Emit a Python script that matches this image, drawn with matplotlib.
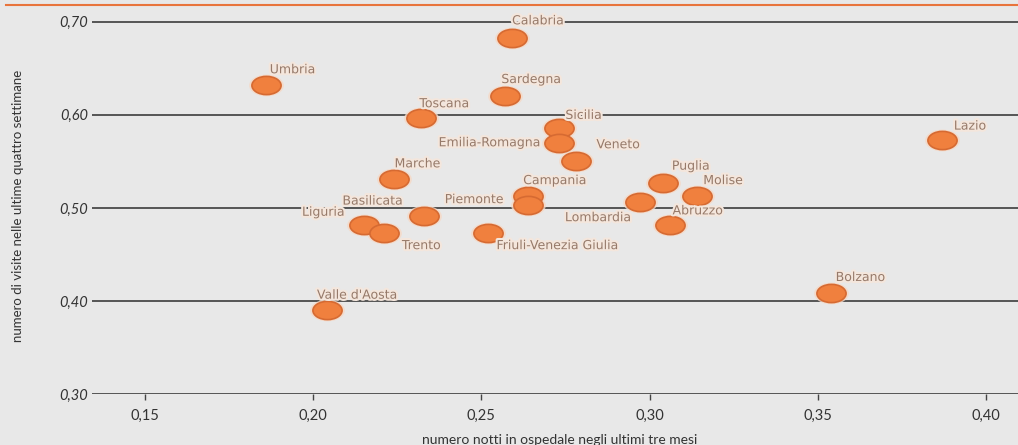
import matplotlib
matplotlib.use("Agg")
import matplotlib.pyplot as plt
from matplotlib.path import Path
from matplotlib.transforms import Affine2D
from matplotlib.lines import Line2D
import matplotlib.patheffects as pe

# ---- data ----
regions = ["Calabria", "Umbria", "Sardegna", "Toscana", "Sicilia", "Emilia-Romagna",
           "Veneto", "Marche", "Campania", "Piemonte", "Puglia", "Molise",
           "Lombardia", "Abruzzo", "Basilicata", "Liguria", "Trento",
           "Friuli-Venezia Giulia", "Valle d'Aosta", "Lazio", "Bolzano"]
notti = [0.259, 0.186, 0.257, 0.232, 0.273, 0.273,
         0.278, 0.224, 0.264, 0.264, 0.304, 0.314,
         0.297, 0.306, 0.233, 0.215, 0.221,
         0.252, 0.204, 0.387, 0.354]
visite = [0.683, 0.632, 0.620, 0.597, 0.586, 0.570,
          0.550, 0.531, 0.513, 0.503, 0.527, 0.513,
          0.506, 0.482, 0.491, 0.482, 0.473,
          0.473, 0.390, 0.573, 0.409]
x_ticks = [0.15, 0.20, 0.25, 0.30, 0.35, 0.40]
y_ticks = [0.30, 0.40, 0.50, 0.60, 0.70]
x_label = "numero notti in ospedale negli ultimi tre mesi"
y_label = "numero di visite nelle ultime quattro settimane"

# label offsets (points) and alignment, presentation only
label_pos = {
    "Calabria": (19, 12, "center"), "Umbria": (19, 11, "center"),
    "Sardegna": (19, 12, "center"), "Toscana": (17, 10, "center"),
    "Sicilia": (18, 9, "center"), "Emilia-Romagna": (-13, 0, "right"),
    "Veneto": (15, 12, "left"), "Marche": (17, 11, "center"),
    "Campania": (19, 11, "center"), "Piemonte": (-18, 4, "right"),
    "Puglia": (20, 12, "center"), "Molise": (19, 11, "center"),
    "Lombardia": (-6, -11, "right"), "Abruzzo": (20, 10, "center"),
    "Basilicata": (-37, 11, "center"), "Liguria": (-29, 9, "center"),
    "Trento": (27, -9, "center"), "Friuli-Venezia Giulia": (6, -9, "left"),
    "Valle d'Aosta": (22, 11, "center"), "Lazio": (20, 10, "center"),
    "Bolzano": (21, 11, "center"),
}

BG = "#e8e8e8"
plt.rcParams["font.family"] = ["Lato", "DejaVu Sans"]

fig = plt.figure(figsize=(10.18, 4.45), dpi=100, facecolor=BG)
ax = fig.add_axes([92 / 1018, 1 - 394.3 / 445, 1 - 92 / 1018, (394.3 - 10) / 445])
ax.set_facecolor(BG)

ax.set_xlim(0.15 - 53 / 3364, 0.15 + (1018 - 145) / 3364)
ax.set_ylim(0.30, 0.70 + 11.7 / 932)

for s in ax.spines.values():
    s.set_visible(False)

ax.set_yticks(y_ticks)
ax.set_yticklabels([f"{v:.2f}".replace(".", ",") for v in y_ticks],
                   fontstyle="italic", fontsize=10.5, color="#333333")
ax.set_xticks(x_ticks)
ax.set_xticklabels([f"{v:.2f}".replace(".", ",") for v in x_ticks],
                   fontsize=10.5, color="#333333")
ax.tick_params(axis="y", length=0, pad=3)
ax.tick_params(axis="x", length=4.5, width=1.0, color="#444444", pad=6, direction="out")
ax.yaxis.grid(True, color="#3c3c3c", linewidth=1.2)
ax.set_axisbelow(True)

ell = Path.unit_circle().transformed(Affine2D().scale(1.6, 1.0))
ax.plot(notti, visite, linestyle="none", marker=ell, markersize=25,
        markerfacecolor="#f6d8c4", markeredgewidth=0, alpha=0.8, zorder=3)
ax.plot(notti, visite, linestyle="none", marker=ell, markersize=21,
        markerfacecolor="#f0803e", markeredgecolor="#d66a32",
        markeredgewidth=1.2, zorder=4)

for name, xv, yv in zip(regions, notti, visite):
    dx, dy, ha = label_pos[name]
    ax.annotate(name, (xv, yv), xytext=(dx, dy), textcoords="offset points",
                ha=ha, va="center", fontsize=9, color="#967a6a",
                family=["DejaVu Sans"], zorder=5,
                path_effects=[pe.withStroke(linewidth=3, foreground="#f4e6dc")])

fig.text(18 / 1018, 1 - 206 / 445, y_label, rotation=90, ha="center", va="center",
         fontsize=9.5, color="#333333")
fig.text(560 / 1018, 1 - 440 / 445, x_label, ha="center", va="center",
         fontsize=10, color="#333333")

fig.add_artist(Line2D([6 / 1018, 1.0], [1 - 5 / 445, 1 - 5 / 445],
                      transform=fig.transFigure, color="#e8743c", linewidth=1.5))

fig.savefig("out.png", dpi=100, facecolor=BG)
